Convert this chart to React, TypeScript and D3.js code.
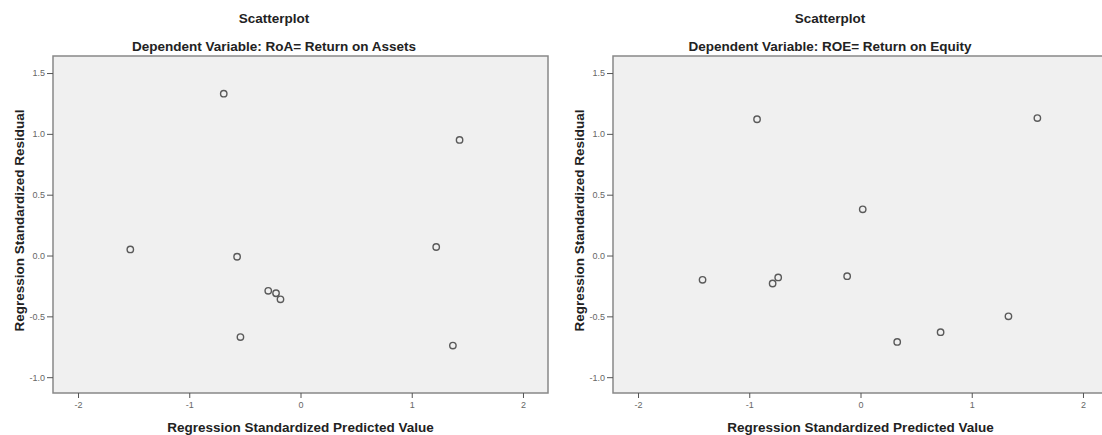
import React, { useEffect, useRef } from 'react';
import * as d3 from 'd3';

const W = 1102;
const H = 435;

const xTicks = [-2, -1, 0, 1, 2];
const yTicks = [-1.0, -0.5, 0.0, 0.5, 1.0, 1.5];

const roaPredicted = [-1.53, -0.69, -0.57, -0.29, -0.22, -0.18, -0.54, 1.22, 1.43, 1.37];
const roaResidual = [0.05, 1.33, -0.01, -0.29, -0.31, -0.36, -0.67, 0.07, 0.95, -0.74];

const roePredicted = [-1.42, -0.93, -0.79, -0.74, -0.12, 0.02, 0.33, 0.72, 1.33, 1.59];
const roeResidual = [-0.2, 1.12, -0.23, -0.18, -0.17, 0.38, -0.71, -0.63, -0.5, 1.13];

// each panel: plot frame left/right, and the centre of the whole panel for the titles
const panels = [
  { title: 'Dependent Variable: RoA= Return on Assets', xs: roaPredicted, ys: roaResidual, left: 53, right: 548, mid: 274 },
  { title: 'Dependent Variable: ROE= Return on Equity', xs: roePredicted, ys: roeResidual, left: 613, right: 1108, mid: 830 },
];

const TOP = 56;
const BOTTOM = 393;

function Panel({ p }: { p: typeof panels[number] }) {
  const xRef = useRef<SVGGElement>(null);
  const yRef = useRef<SVGGElement>(null);

  const x = d3.scaleLinear().domain([-2.225, 2.225]).range([p.left, p.right]);
  const y = d3.scaleLinear().domain([-1.13, 1.64]).range([BOTTOM, TOP]);

  useEffect(() => {
    const xAxis = d3.axisBottom(x).tickValues(xTicks).tickFormat((d: any) => String(d)).tickSize(5).tickPadding(4);
    const yAxis = d3.axisLeft(y).tickValues(yTicks).tickFormat((d: any) => (+d).toFixed(1)).tickSize(6).tickPadding(2);
    const gx = d3.select(xRef.current!).call(xAxis as any);
    const gy = d3.select(yRef.current!).call(yAxis as any);
    [gx, gy].forEach((g) => {
      g.select('.domain').remove();
      g.selectAll('.tick line').attr('stroke', '#555').attr('stroke-width', 1);
      g.selectAll('.tick text')
        .attr('fill', '#666')
        .style('font-family', '"Liberation Sans", Arial, sans-serif')
        .style('font-size', '9px');
    });
  });

  const cx = (p.left + p.right) / 2;
  const bold = { fontFamily: '"Liberation Sans", Arial, sans-serif', fontWeight: 'bold' as const, fontSize: 13.5, fill: '#222' };

  return (
    <g>
      <text x={p.mid} y={23} textAnchor="middle" style={bold}>Scatterplot</text>
      <text x={p.mid} y={51} textAnchor="middle" style={bold}>{p.title}</text>
      <rect x={p.left} y={TOP} width={p.right - p.left} height={BOTTOM - TOP} fill="#f0f0f0" stroke="#888" strokeWidth={1.5} />
      <g ref={xRef} transform={`translate(0,${BOTTOM})`} />
      <g ref={yRef} transform={`translate(${p.left},0)`} />
      {p.xs.map((v, i) => (
        <circle key={i} cx={x(v)} cy={y(p.ys[i])} r={3.2} fill="none" stroke="#5a5a5a" strokeWidth={1.4} />
      ))}
      <text x={cx} y={432} textAnchor="middle" style={bold}>Regression Standardized Predicted Value</text>
      <text transform={`translate(${p.left - 29},${(TOP + BOTTOM) / 2 - 4}) rotate(-90)`} textAnchor="middle" style={bold}>
        Regression Standardized Residual
      </text>
    </g>
  );
}

export default function App() {
  return (
    <div style={{ position: 'absolute', left: 0, top: 0 }}>
      <svg width={W} height={H} style={{ display: 'block', background: '#fff' }}>
        {panels.map((p, i) => (
          <Panel key={i} p={p} />
        ))}
      </svg>
    </div>
  );
}
